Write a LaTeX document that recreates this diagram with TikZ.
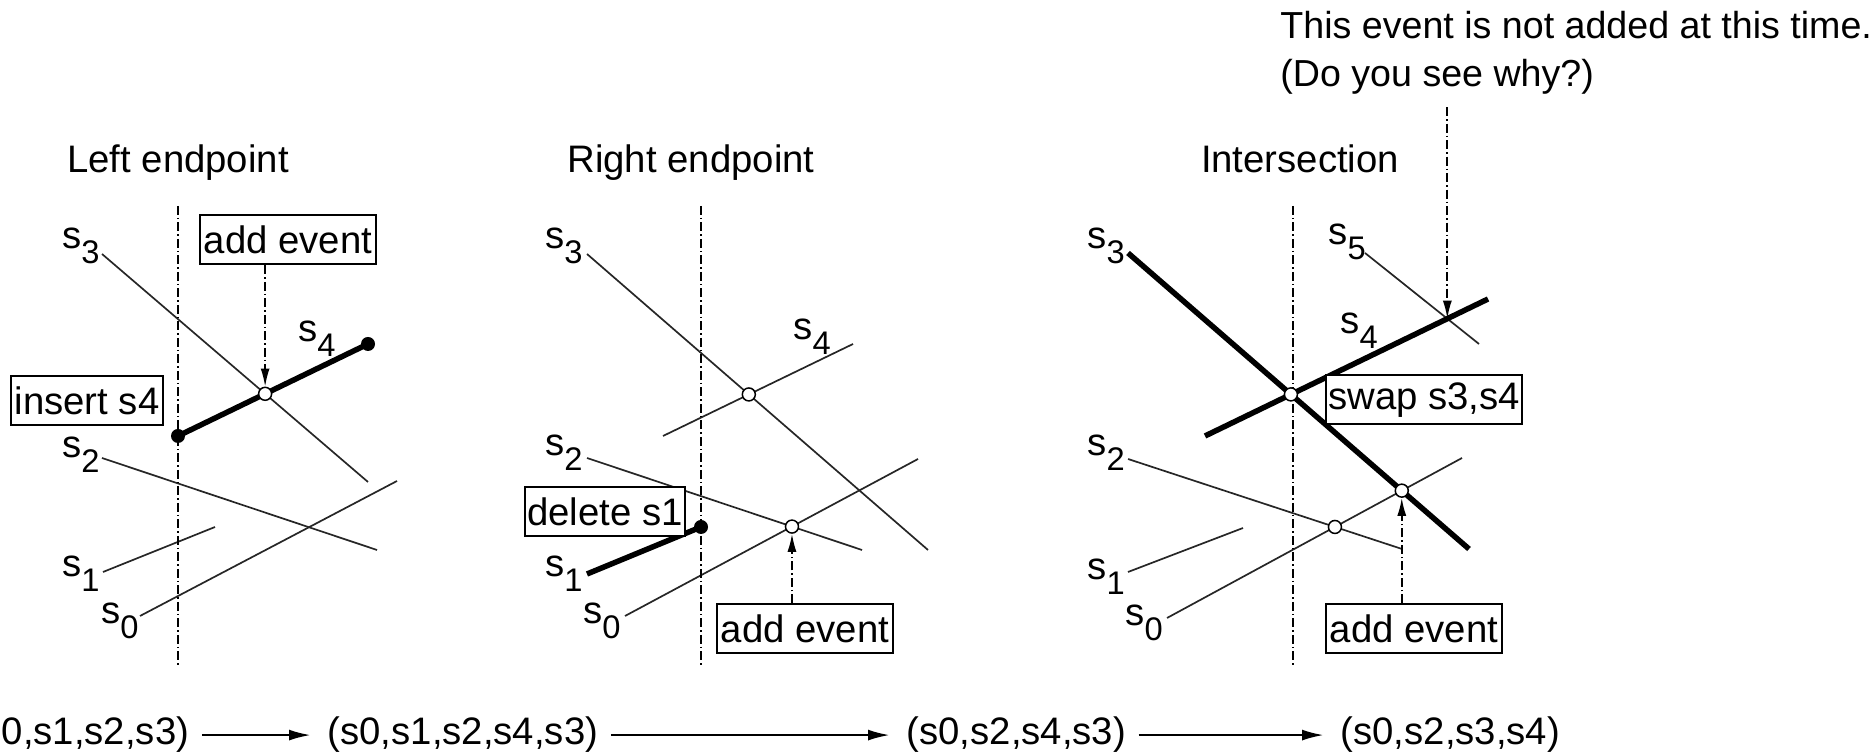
\documentclass[tikz,border=0pt]{standalone}
\usepackage{fontspec}
\setmainfont{Liberation Sans}
\usetikzlibrary{arrows.meta, positioning, calc}

\newcommand{\figfont}{\fontsize{10.9pt}{13.4pt}\selectfont}
\newcommand{\notefont}{\fontsize{10.7pt}{13.4pt}\selectfont}
\newcommand{\segs}[1]{s\raisebox{-4.2pt}{\fontsize{9.3pt}{9.3pt}\selectfont #1}}

\begin{document}
\begin{tikzpicture}[
    x=0.1mm, y=-0.1mm,
    font=\figfont,
    seg/.style={
        line width=0.17mm,
        black!85
    },
    thickseg/.style={
        line width=0.55mm,
        black
    },
    sweep/.style={
        line width=0.17mm,
        dash pattern=on 0.9mm off 0.3mm on 0.15mm off 0.3mm
    },
    evarrow/.style={
        sweep,
        -{Latex[length=1.8mm, width=0.9mm]}
    },
    seqarrow/.style={
        line width=0.25mm,
        -{Latex[length=2.2mm, width=1.1mm]},
        shorten <=1.2mm,
        shorten >=1.6mm
    },
    box/.style={
        rectangle,
        draw,
        line width=0.2mm,
        fill=white,
        inner xsep=0.4mm,
        inner ysep=0.6mm,
        minimum height=4.9mm
    },
    segname/.style={
        inner sep=0
    },
    title/.style={
        anchor=base
    },
    note/.style={
        anchor=base west,
        font=\notefont
    },
    event/.style={
        circle,
        draw,
        line width=0.15mm,
        fill=white,
        inner sep=0,
        minimum size=1.3mm
    },
    endpt/.style={
        circle,
        fill=black,
        inner sep=0,
        minimum size=1.4mm
    }
]

\useasboundingbox (0,0) rectangle (1872,754);

% LEFT ENDPOINT panel
\coordinate (a3l) at (102,254); \coordinate (a3r) at (368,482);
\coordinate (a4l) at (178,436); \coordinate (a4r) at (368,344);
\coordinate (a2l) at (102,458); \coordinate (a2r) at (377,550);
\coordinate (a1l) at (103,572); \coordinate (a1r) at (215,527);
\coordinate (a0l) at (140,616); \coordinate (a0r) at (397,481);

\draw[seg] (a3l) -- (a3r);
\draw[seg] (a2l) -- (a2r);
\draw[seg] (a1l) -- (a1r);
\draw[seg] (a0l) -- (a0r);
\draw[thickseg] (a4l) -- (a4r);
\draw[sweep] (178,206) -- (178,665);

\node[endpt] (dotAl) at (a4l) {};
\node[endpt] (dotAr) at (a4r) {};
\node[event] (evA) at (intersection of a3l--a3r and a4l--a4r) {};

\node[title] (titleA) at (178,173) {Left endpoint};
\node[box] (addA) at (288,240) {add event};
\node[box] (insertA) at (87,401) {insert s4};
\draw[evarrow] (addA.south -| evA) -- (evA.north);

\node[segname] (lblA3) at (81,246) {\segs{3}};
\node[segname] (lblA4) at (317,339) {\segs{4}};
\node[segname] (lblA2) at (81,455) {\segs{2}};
\node[segname] (lblA1) at (81,574) {\segs{1}};
\node[segname] (lblA0) at (120,621) {\segs{0}};

% RIGHT ENDPOINT panel
\coordinate (b3l) at (587,254); \coordinate (b3r) at (928,550);
\coordinate (b4l) at (663,436); \coordinate (b4r) at (853,344);
\coordinate (b2l) at (587,458); \coordinate (b2r) at (862,550);
\coordinate (b1l) at (587,574); \coordinate (b1r) at (701,527);
\coordinate (b0l) at (625,616); \coordinate (b0r) at (918,459);

\draw[seg] (b3l) -- (b3r);
\draw[seg] (b4l) -- (b4r);
\draw[seg] (b2l) -- (b2r);
\draw[seg] (b0l) -- (b0r);
\draw[thickseg] (b1l) -- (b1r);
\draw[sweep] (701,206) -- (701,665);

\node[box, inner xsep=0.2mm] (deleteB) at (605,512) {delete s1};
\node[endpt] (dotB) at (b1r) {};
\node[event] (evBa) at (intersection of b3l--b3r and b4l--b4r) {};
\node[event] (evBb) at (intersection of b2l--b2r and b0l--b0r) {};

\node[title] (titleB) at (691,173) {Right endpoint};
\node[box] (addB) at (805,629) {add event};
\draw[evarrow] (addB.north -| evBb) -- (evBb.south);

\node[segname] (lblB3) at (564,246) {\segs{3}};
\node[segname] (lblB4) at (812,337) {\segs{4}};
\node[segname] (lblB2) at (564,453) {\segs{2}};
\node[segname] (lblB1) at (564,574) {\segs{1}};
\node[segname] (lblB0) at (602,621) {\segs{0}};

% INTERSECTION panel
\coordinate (c3l) at (1128,253); \coordinate (c3r) at (1469,549);
\coordinate (c4l) at (1205,436); \coordinate (c4r) at (1488,299);
\coordinate (c5l) at (1365,253); \coordinate (c5r) at (1479,344);
\coordinate (c2l) at (1128,459); \coordinate (c2r) at (1402,549);
\coordinate (c1l) at (1128,572); \coordinate (c1r) at (1243,528);
\coordinate (c0l) at (1167,618); \coordinate (c0r) at (1462,458);

\draw[seg] (c5l) -- (c5r);
\draw[seg] (c2l) -- (c2r);
\draw[seg] (c1l) -- (c1r);
\draw[seg] (c0l) -- (c0r);
\draw[thickseg] (c3l) -- (c3r);
\draw[thickseg] (c4l) -- (c4r);
\draw[sweep] (1293,206) -- (1293,665);

\coordinate (hitC) at (intersection of c4l--c4r and c5l--c5r);
\node[event] (evCa) at (intersection of c3l--c3r and c4l--c4r) {};
\node[event] (evCb) at (intersection of c2l--c2r and c0l--c0r) {};
\node[event] (evCc) at (intersection of c3l--c3r and c0l--c0r) {};

\node[title] (titleC) at (1300,173) {Intersection};
\node[box, inner xsep=0.2mm] (swapC) at (1424,400) {swap s3,s4};
\node[box] (addC) at (1414,629) {add event};
\draw[evarrow] (addC.north -| evCc) -- (evCc.south);

\node[note] (why1) at (1268,39) {This event is not added at this time.};
\node[note] (why2) at (1268,87) {(Do you see why?)};
\draw[evarrow] (why2.south -| hitC) -- (hitC);

\node[segname] (lblC3) at (1106,246) {\segs{3}};
\node[segname] (lblC5) at (1347,242) {\segs{5}};
\node[segname] (lblC4) at (1359,331) {\segs{4}};
\node[segname] (lblC2) at (1106,453) {\segs{2}};
\node[segname] (lblC1) at (1106,577) {\segs{1}};
\node[segname] (lblC0) at (1144,623) {\segs{0}};

% Sweep line status sequence
\node[anchor=base west, inner sep=0] (seq0) at (1,745) {0,s1,s2,s3)};
\node[anchor=base west, inner sep=0] (seq1) at (327,745) {(s0,s1,s2,s4,s3)};
\node[anchor=base west, inner sep=0] (seq2) at (906,745) {(s0,s2,s4,s3)};
\node[anchor=base west, inner sep=0] (seq3) at (1340,745) {(s0,s2,s3,s4)};

\draw[seqarrow] (seq0) -- (seq1);
\draw[seqarrow] (seq1) -- (seq2);
\draw[seqarrow] (seq2) -- (seq3);

\end{tikzpicture}
\end{document}
